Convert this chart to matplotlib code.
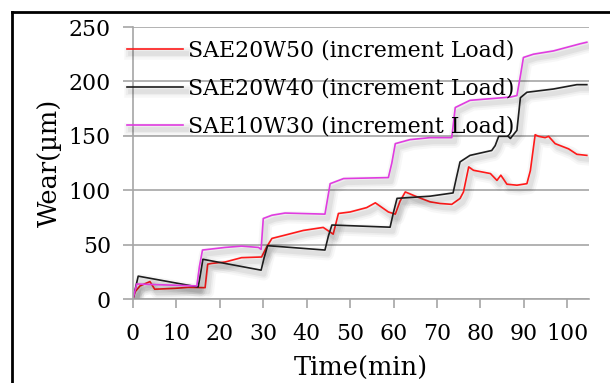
import matplotlib
matplotlib.use("Agg")
import matplotlib.pyplot as plt
import matplotlib.patheffects as pe
from matplotlib.lines import Line2D

# SAE20W50 (red)
t_20w50 = [0, 0.5, 1.6, 3.9, 5.0, 9.7, 12.7, 16.6, 17.2, 18.1, 21.2, 25.0, 29.6, 30.8,
           32.0, 35.0, 39.2, 43.8, 46.1, 47.3, 50.0, 53.8, 55.8, 58.8, 60.4, 61.5, 62.7,
           65.4, 68.4, 70.7, 73.4, 75.3, 76.1, 77.3, 78.4, 82.3, 83.8, 84.7, 86.1, 88.4,
           90.7, 91.5, 92.6, 93.4, 94.9, 95.7, 97.2, 100.3, 102.2, 104.5]
w_20w50 = [0, 6.7, 12, 16, 9, 9.8, 10.7, 10.4, 32, 32.7, 34, 38, 38.6, 48,
           55.7, 58.7, 63, 65.8, 59.6, 78.6, 80, 84, 88.4, 80, 78, 90, 98.4,
           93.9, 89.3, 87.8, 87, 92.4, 98.4, 121.4, 118.3, 115.3, 109, 113.8, 105.5, 104.6,
           106, 118, 151, 149.5, 148.3, 149.5, 142.8, 138, 133, 132]

# SAE20W40 (black)
t_20w40 = [0, 1.2, 15.0, 15.5, 16.1, 29.5, 30.2, 31.0, 44.2, 45.0, 45.8, 59.2, 60.0,
           60.8, 68.4, 73.7, 74.5, 75.3, 77.6, 82.6, 83.4, 84.2, 86.4, 86.9, 88.4, 89.2,
           90.7, 96.8, 102.2, 104.5]
w_20w40 = [0, 21, 11, 22, 36.5, 26.5, 38, 49, 45, 58, 68, 66, 80,
           92.5, 94.5, 97.5, 112, 126, 132, 136.5, 141, 149.5, 149.5, 147.5, 155, 185,
           190, 193, 197, 197]

# SAE10W30 (magenta)
t_10w30 = [0, 0.85, 14.7, 15.3, 16.0, 21.2, 25, 28.9, 29.5, 30.0, 32.0, 35.0, 44.2,
           44.8, 45.4, 48.5, 58.8, 59.6, 60.4, 63.8, 68.4, 73.4, 74.2, 77.6, 86.9, 88.4,
           89.2, 89.9, 92.2, 96.8, 103, 104.5]
w_10w30 = [0, 13.8, 12, 30, 45, 47.4, 48.6, 47.4, 45.6, 74, 77, 79, 78,
           92, 106, 110.7, 111.6, 125, 142.8, 146.5, 148.3, 148.3, 176, 182.6, 185.6, 187,
           205, 222, 225, 228, 234.6, 236]

series = [
    ("SAE20W50 (increment Load)", t_20w50, w_20w50, "#ff1a1a"),
    ("SAE20W40 (increment Load)", t_20w40, w_20w40, "#1e1e1e"),
    ("SAE10W30 (increment Load)", t_10w30, w_10w30, "#e03ce0"),
]

plt.rcParams["font.family"] = "DejaVu Serif"
plt.rcParams["font.size"] = 15.8

fig = plt.figure(figsize=(6.1, 3.83), dpi=100)
ax = fig.add_axes([133 / 610, 1 - 299 / 383, (589 - 133) / 610, (299 - 27) / 383])

# soft shadow under the lines
shadow = [pe.SimpleLineShadow(offset=(2, -3), shadow_color="#000000", alpha=a, linewidth=lw)
          for a, lw in [(0.03, 9), (0.04, 6), (0.05, 3.5)]]

for label, t, w, c in series:
    ax.plot(t, w, color=c, lw=1.2, label=label,
            path_effects=shadow + [pe.Normal()])

ax.set_xlim(0, 105)
ax.set_ylim(0, 250)
ax.set_xticks(range(0, 101, 10))
ax.set_yticks(range(0, 251, 50))
ax.grid(axis="y", color="#a6a6a6", lw=1.2)
ax.set_axisbelow(True)
for s in ["top", "right"]:
    ax.spines[s].set_visible(False)
for s in ["left", "bottom"]:
    ax.spines[s].set_color("#a6a6a6")
    ax.spines[s].set_linewidth(1.2)
ax.tick_params(axis="y", length=7, width=1.2, color="#a6a6a6", pad=9)
ax.tick_params(axis="x", length=6.5, width=1.2, color="#a6a6a6", pad=10.5)

ax.set_xlabel("Time(min)", fontsize=18.5, labelpad=8)
ax.set_ylabel("Wear(µm)", fontsize=18.5, labelpad=5)

ax.legend(loc="upper left", bbox_to_anchor=(127 / 610, 1 - 40 / 383),
          bbox_transform=fig.transFigure, frameon=False, borderpad=0, fontsize=15.8,
          borderaxespad=0, handlelength=2.55, handletextpad=0.25, labelspacing=0.72)

# page frame lines
fig.add_artist(Line2D([12 / 610, 1], [1 - 12 / 383, 1 - 12 / 383], color="black", lw=2))
fig.add_artist(Line2D([12 / 610, 12 / 610], [0, 1 - 12 / 383], color="black", lw=2))

fig.savefig("out.png", dpi=100)
